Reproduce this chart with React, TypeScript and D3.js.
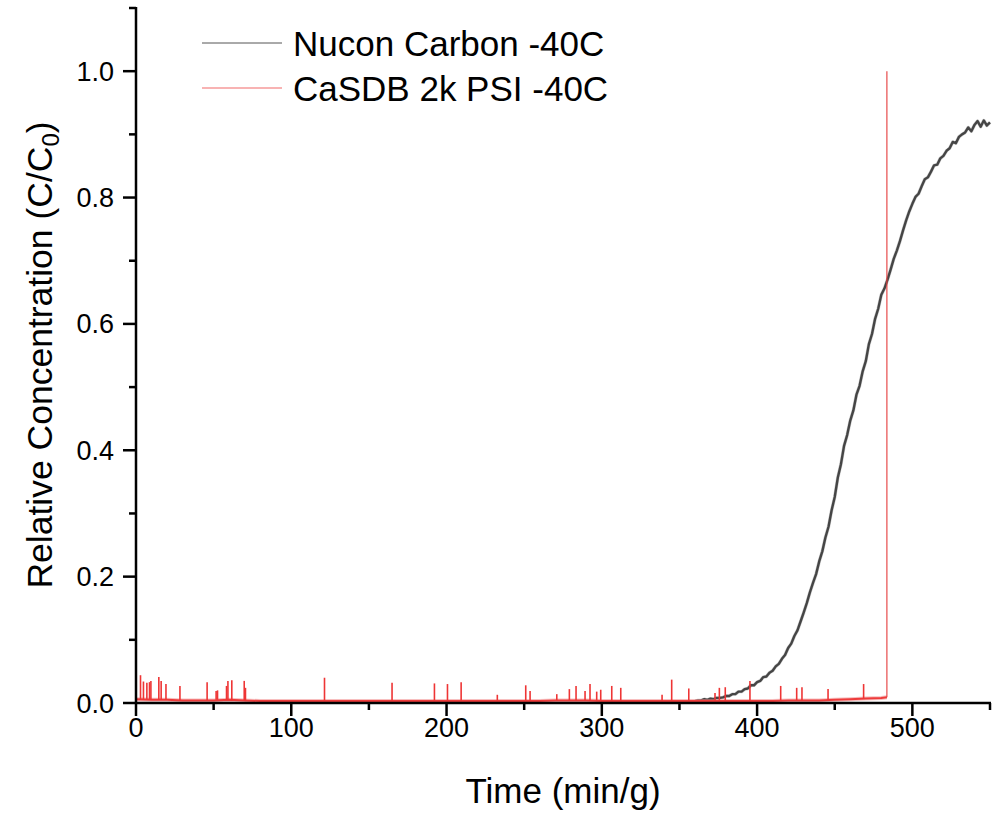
import React from "react";
import * as d3 from "d3";

// ---- Data ----
const nuconX = [360,362,364,366,368,370,372,374,376,378,380,382,384,386,388,390,392,394,396,398,400,402,404,406,408,410,412,414,416,418,420,422,424,426,428,430,432,434,436,438,440,442,444,446,448,450,452,454,456,458,460,462,464,466,468,470,472,474,476,478,480,482,484,486,488,490,492,494,496,498,500,502,504,506,508,510,512,514,516,518,520,522,524,526,528,530,532,534,536,538,540,542,544,546,548,550];
const nuconY = [0.003,0.004,0.004,0.006,0.005,0.007,0.006,0.008,0.008,0.009,0.011,0.011,0.014,0.014,0.018,0.018,0.022,0.023,0.028,0.028,0.033,0.035,0.041,0.042,0.048,0.051,0.058,0.062,0.070,0.076,0.087,0.094,0.106,0.115,0.129,0.143,0.158,0.175,0.190,0.204,0.224,0.240,0.262,0.279,0.305,0.326,0.357,0.378,0.407,0.424,0.447,0.463,0.488,0.502,0.525,0.541,0.568,0.584,0.608,0.624,0.646,0.656,0.670,0.686,0.703,0.716,0.731,0.748,0.764,0.778,0.790,0.801,0.806,0.818,0.829,0.832,0.841,0.851,0.852,0.862,0.866,0.874,0.878,0.888,0.886,0.896,0.900,0.903,0.911,0.905,0.915,0.921,0.912,0.922,0.914,0.919];

const casdbBaseX = [0,10,20,30,40,50,60,70,80,90,100,110,120,130,140,150,160,170,180,190,200,210,220,230,240,250,260,270,280,290,300,310,320,330,340,350,360,370,380,390,400,410,420,430,440,450,460,470,480,483.6];
const casdbBaseY = [0.006,0.005,0.005,0.004,0.004,0.004,0.005,0.004,0.003,0.003,0.003,0.003,0.003,0.003,0.003,0.003,0.003,0.003,0.003,0.003,0.003,0.003,0.003,0.003,0.003,0.003,0.003,0.004,0.004,0.004,0.003,0.003,0.003,0.003,0.003,0.003,0.003,0.003,0.003,0.003,0.003,0.003,0.004,0.004,0.004,0.005,0.006,0.007,0.008,0.009];
const casdbSpikeX = [2.9,4.8,7.0,8.7,9.6,14.7,16.2,19.3,28.3,45.8,51.6,52.5,58.3,59.2,61.7,69.7,70.5,121.4,164.9,192.2,200.6,209.4,232.7,251.0,253.8,271.0,279.1,283.4,289.2,292.4,296.7,299.3,306.4,312.2,338.8,345.0,356.0,372.9,375.7,379.5,395.4,415.2,425.5,428.9,445.7,468.6];
const casdbSpikeY = [0.044,0.034,0.032,0.033,0.035,0.041,0.035,0.030,0.027,0.033,0.019,0.020,0.027,0.035,0.036,0.035,0.024,0.040,0.032,0.031,0.030,0.033,0.013,0.028,0.019,0.014,0.022,0.027,0.019,0.030,0.018,0.021,0.027,0.024,0.013,0.037,0.023,0.016,0.024,0.025,0.035,0.027,0.024,0.025,0.022,0.030];
const casdbFinalX = 483.6;
const casdbFinalY = 1.0;

const xTicks = [0, 100, 200, 300, 400, 500];
const xMinor = [50, 150, 250, 350, 450, 550];
const yTicks = [0, 0.2, 0.4, 0.6, 0.8, 1.0];
const yMinor = [0.1, 0.3, 0.5, 0.7, 0.9, 1.1];
const seriesNames = ["Nucon Carbon -40C", "CaSDB 2k PSI -40C"];

const W = 998, H = 815;
const FONT = "'Liberation Sans', Arial, sans-serif";

export default function App() {
  const x = d3.scaleLinear().domain([0, 550]).range([136, 990]);
  const y = d3.scaleLinear().domain([0, 1.1]).range([703, 8]);

  const nuconPts = nuconX.map((v, i) => [v, nuconY[i]] as [number, number]);
  const basePts = casdbBaseX.map((v, i) => [v, casdbBaseY[i]] as [number, number]);
  const line = d3.line<[number, number]>().x(d => x(d[0])).y(d => y(d[1]));

  const baseAt = (xv: number) => {
    const i = d3.bisector((d: number) => d).left(casdbBaseX, xv);
    const j = Math.min(Math.max(i, 0), casdbBaseX.length - 1);
    return casdbBaseY[j];
  };

  return (
    <svg width={W} height={H} style={{ position: "absolute", left: 0, top: 0, background: "#fff" }}>
      {/* Nucon curve */}
      <path d={line(nuconPts) || ""} fill="none" stroke="#999" strokeWidth={3.4} opacity={0.5} strokeLinejoin="round" />
      <path d={line(nuconPts) || ""} fill="none" stroke="#454545" strokeWidth={2.4} strokeLinejoin="round" />

      {/* CaSDB baseline fuzz */}
      <path d={line(basePts) || ""} fill="none" stroke="#f08080" strokeWidth={4} opacity={0.5} />
      <path d={line(basePts) || ""} fill="none" stroke="#ee3b3b" strokeWidth={2} />
      {casdbSpikeX.map((sx, i) => (
        <line key={i} x1={x(sx)} x2={x(sx)} y1={y(baseAt(sx))} y2={y(casdbSpikeY[i])} stroke="#ee3535" strokeWidth={1.6} />
      ))}
      <line x1={x(casdbFinalX)} x2={x(casdbFinalX)} y1={y(casdbBaseY[casdbBaseY.length - 1])} y2={y(casdbFinalY)} stroke="#e53a3a" strokeWidth={1.1} />

      {/* Axes */}
      <line x1={136} x2={136} y1={y(1.1) - 1} y2={704} stroke="#000" strokeWidth={2.5} />
      <line x1={135} x2={991} y1={703} y2={703} stroke="#000" strokeWidth={2.5} />
      {xTicks.map(t => (
        <g key={"xt" + t}>
          <line x1={x(t)} x2={x(t)} y1={703} y2={716} stroke="#000" strokeWidth={2.5} />
          <text x={x(t)} y={737} textAnchor="middle" fontFamily={FONT} fontSize={27}>{t}</text>
        </g>
      ))}
      {xMinor.map(t => (
        <line key={"xm" + t} x1={x(t)} x2={x(t)} y1={703} y2={710} stroke="#000" strokeWidth={2.5} />
      ))}
      {yTicks.map(t => (
        <g key={"yt" + t}>
          <line x1={123} x2={136} y1={y(t)} y2={y(t)} stroke="#000" strokeWidth={2.5} />
          <text x={114} y={y(t) + 9.5} textAnchor="end" fontFamily={FONT} fontSize={27}>{t.toFixed(1)}</text>
        </g>
      ))}
      {yMinor.map(t => (
        <line key={"ym" + t} x1={129} x2={136} y1={y(t)} y2={y(t)} stroke="#000" strokeWidth={2.5} />
      ))}

      {/* Axis titles */}
      <text x={563} y={803} textAnchor="middle" fontFamily={FONT} fontSize={35}>Time (min/g)</text>
      <text transform="translate(52,355) rotate(-90)" textAnchor="middle" fontFamily={FONT} fontSize={35.5}>
        Relative Concentration (C/C<tspan fontSize={24} dy={7}>0</tspan><tspan dy={-7}>)</tspan>
      </text>

      {/* Legend */}
      <line x1={202} x2={282} y1={43} y2={43} stroke="#555" strokeWidth={1} />
      <text x={293} y={56} fontFamily={FONT} fontSize={35}>{seriesNames[0]}</text>
      <line x1={202} x2={282} y1={88} y2={88} stroke="#f26868" strokeWidth={1.2} />
      <text x={293} y={101} fontFamily={FONT} fontSize={35}>{seriesNames[1]}</text>
    </svg>
  );
}
